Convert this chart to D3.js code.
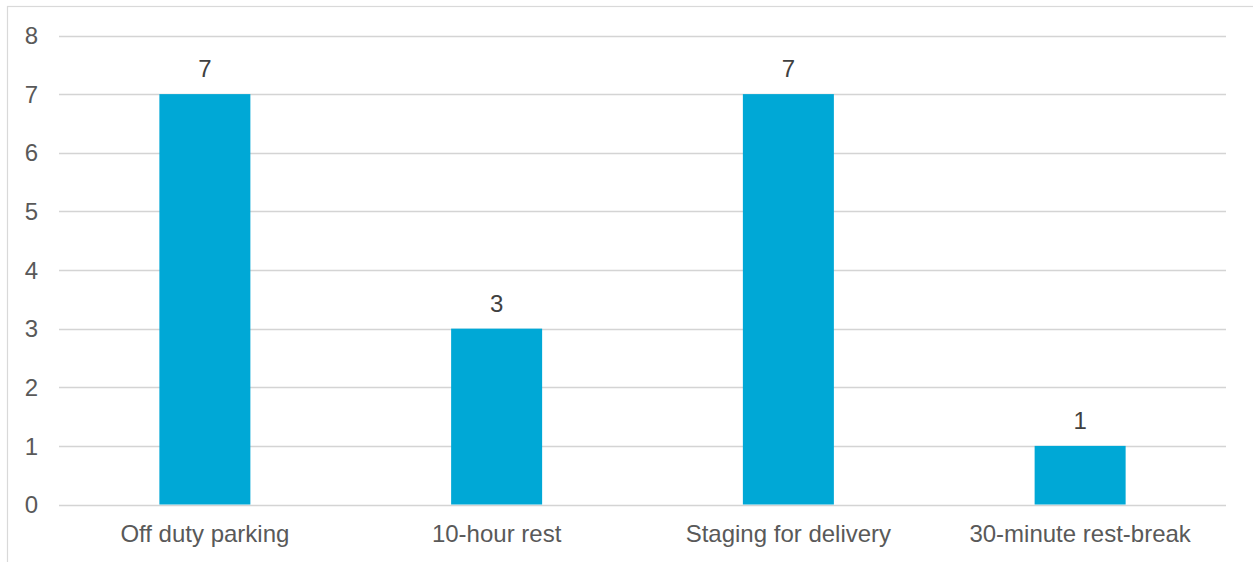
<!DOCTYPE html>
<html><head><meta charset="utf-8">
<script src="https://cdn.jsdelivr.net/npm/d3@7"></script>
<style>
html,body{margin:0;padding:0;background:#fff;}
svg{display:block;}
text{font-family:Arial,"Liberation Sans",sans-serif;}
</style></head>
<body>
<script>
const categories = ["Off duty parking","10-hour rest","Staging for delivery","30-minute rest-break"];
const values = [7,3,7,1];
const yTicks = [0,1,2,3,4,5,6,7,8];

(function(){
const W = 1253, H = 562;
const svg = d3.select("body").append("svg").attr("width",W).attr("height",H);

// chart border
svg.append("rect").attr("x",7.5).attr("y",6.5).attr("width",W).attr("height",H)
  .attr("fill","none").attr("stroke","#d9d9d9").attr("stroke-width",1.2);

const mLeft = 59, mRight = 1226, mTop = 35.5, mBottom = 504.5;
const x = d3.scaleBand().domain(categories).range([mLeft,mRight]).padding(0);
const y = d3.scaleLinear().domain([0,8]).range([mBottom,mTop]);

// gridlines
svg.append("g").selectAll("line").data(yTicks).join("line")
  .attr("x1",mLeft).attr("x2",mRight)
  .attr("y1",d=>Math.round(y(d))+0.5).attr("y2",d=>Math.round(y(d))+0.5)
  .attr("stroke","#d4d4d4").attr("stroke-width",1.3);

// y tick labels
svg.append("g").selectAll("text").data(yTicks).join("text")
  .attr("x",38).attr("y",d=>y(d))
  .attr("dy","0.36em").attr("text-anchor","end")
  .attr("font-size",24).attr("fill","#595959").text(d=>d);

const bw = 91;
// bars
svg.append("g").selectAll("rect").data(values).join("rect")
  .attr("x",(d,i)=>x(categories[i])+x.bandwidth()/2-bw/2)
  .attr("width",bw)
  .attr("y",d=>y(d))
  .attr("height",d=>y(0)-y(d))
  .attr("fill","#00a8d6");

// value labels
svg.append("g").selectAll("text").data(values).join("text")
  .attr("x",(d,i)=>x(categories[i])+x.bandwidth()/2)
  .attr("y",d=>y(d)-17)
  .attr("text-anchor","middle")
  .attr("font-size",24).attr("fill","#404040").text(d=>d);

// x category labels
svg.append("g").selectAll("text").data(categories).join("text")
  .attr("x",d=>x(d)+x.bandwidth()/2)
  .attr("y",542)
  .attr("text-anchor","middle")
  .attr("font-size",24).attr("fill","#595959").text(d=>d);
})();
</script>
</body></html>
